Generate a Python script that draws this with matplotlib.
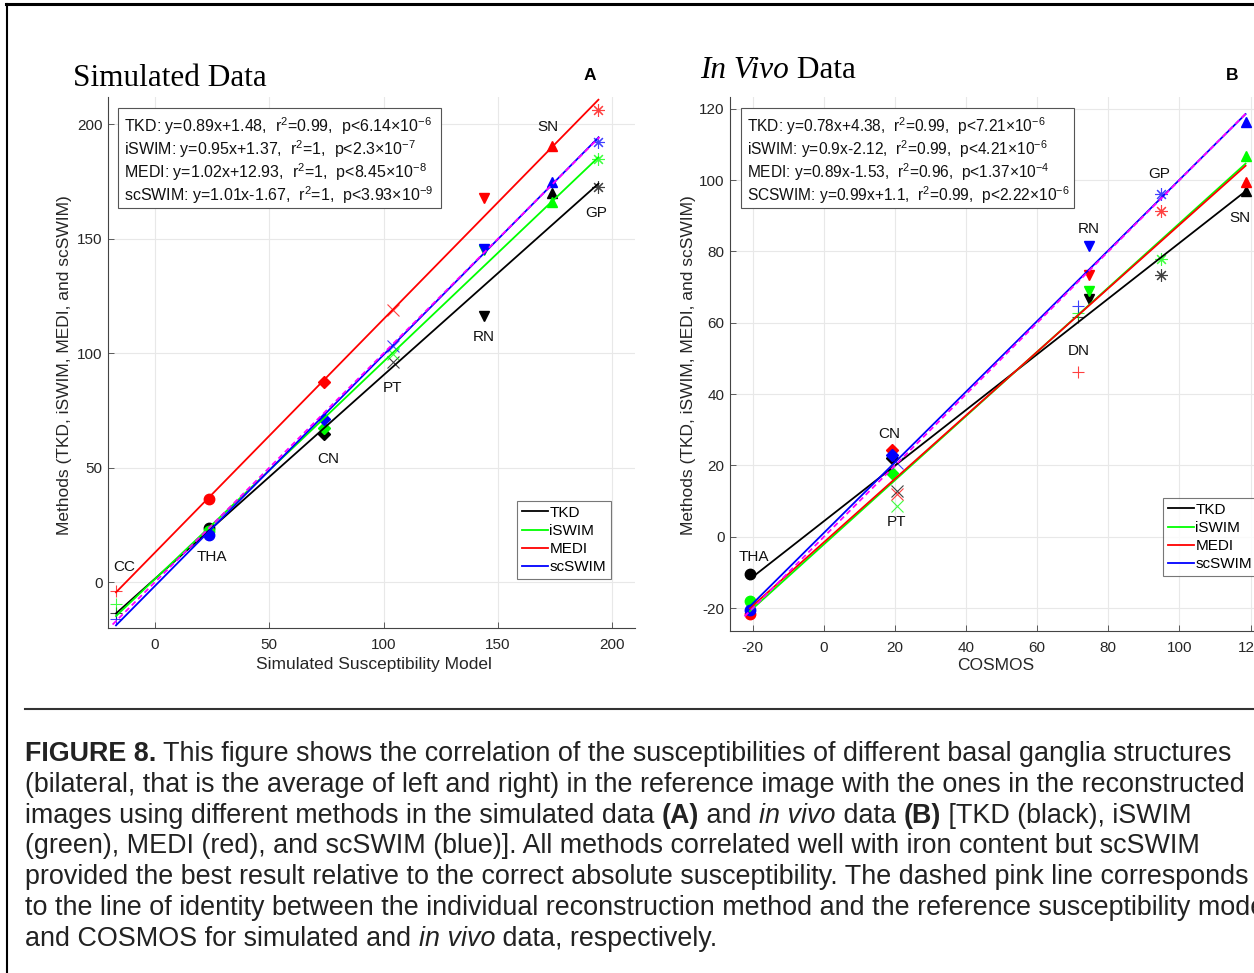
import numpy as np
import matplotlib.pyplot as plt
from matplotlib.patches import Rectangle
from matplotlib.lines import Line2D

plt.rcParams['font.family'] = ['Liberation Sans', 'DejaVu Sans']
plt.rcParams['mathtext.fontset'] = 'custom'
plt.rcParams['mathtext.rm'] = 'Liberation Sans'
plt.rcParams['mathtext.it'] = 'Liberation Sans:italic'
plt.rcParams['mathtext.bf'] = 'Liberation Sans:bold'
plt.rcParams['axes.unicode_minus'] = False

# ---------------- data ----------------
methods = ['TKD', 'iSWIM', 'MEDI', 'scSWIM']
colors = ['#000000', '#00ff00', '#ff0000', '#0000ff']

# (A) simulated data
sim_regions = ['CC', 'THA', 'CN', 'PT', 'RN', 'SN', 'GP']
sim_markers = ['+', 'o', 'D', 'x', 'v', '^', (8, 2, 0)]
sim_x = [-17.0, 23.7, 73.9, 104.0, 143.8, 173.9, 194.0]
sim_tkd = [-13.3, 23.9, 64.6, 96.4, 116.4, 170.2, 172.5]
sim_iswim = [-9.7, 22.5, 67.2, 99.8, 145.0, 166.1, 185.0]
sim_medi = [-3.7, 36.3, 87.5, 119.0, 167.7, 190.5, 206.4]
sim_scswim = [-15.9, 20.7, 71.3, 103.0, 145.6, 174.7, 192.4]
sim_slope = [0.89, 0.95, 1.02, 1.01]
sim_icpt = [1.48, 1.37, 12.93, -1.67]
sim_r2 = ['0.99', '1', '1', '1']
sim_p = [('6.14', -6), ('2.3', -7), ('8.45', -8), ('3.93', -9)]
sim_names = ['TKD', 'iSWIM', 'MEDI', 'scSWIM']
sim_label_pos = [(-13.5, 6.6), (24.9, 11.0), (75.9, 53.8), (103.9, 84.9),
                 (143.7, 107.2), (172.0, 199.0), (193.0, 161.3)]

# (B) in vivo data
vivo_regions = ['THA', 'CN', 'PT', 'DN', 'RN', 'GP', 'SN']
vivo_markers = ['o', 'D', 'x', '+', 'v', (8, 2, 0), '^']
vivo_x = [-20.8, 19.2, 20.7, 71.6, 74.6, 94.8, 118.6]
vivo_tkd = [-10.3, 22.0, 12.9, 61.5, 66.8, 73.5, 96.9]
vivo_iswim = [-17.9, 17.8, 8.7, 62.8, 69.0, 77.9, 106.8]
vivo_medi = [-21.6, 24.3, 12.0, 46.2, 73.3, 91.4, 99.6]
vivo_scswim = [-20.6, 22.9, 20.6, 64.6, 81.6, 96.2, 116.3]
vivo_slope = [0.78, 0.9, 0.89, 0.99]
vivo_icpt = [4.38, -2.12, -1.53, 1.1]
vivo_r2 = ['0.99', '0.99', '0.96', '0.99']
vivo_p = [('7.21', -6), ('4.21', -6), ('1.37', -4), ('2.22', -6)]
vivo_names = ['TKD', 'iSWIM', 'MEDI', 'SCSWIM']
vivo_label_pos = [(-19.7, -5.6), (18.3, 28.7), (20.5, 4.2), (71.7, 52.2),
                  (74.5, 86.2), (94.2, 101.7), (117.0, 89.3)]

# ---------------- figure ----------------
W, H = 1254, 973
fig = plt.figure(figsize=(W / 100, H / 100), dpi=100)


def fx(px):
    return px / W


def fy(py):
    return 1 - py / H


axA = fig.add_axes([fx(108), fy(628), (635 - 108) / W, (628 - 97) / H])
axB = fig.add_axes([fx(730), fy(631), (1279 - 730) / W, (631 - 97) / H])

thin = {'+', 'x'}


def draw_panel(ax, x, series, markers, slopes, icpts, regions, label_pos):
    x = np.asarray(x)
    for vals, c in zip(series, colors):
        for xi, yi, m in zip(x, vals, markers):
            if m in thin or isinstance(m, tuple):
                ax.plot(xi, yi, marker=m, ms=9, mec=c, mew=0.8, alpha=0.75,
                        ls='none', zorder=3)
            else:
                ms = 6 if m == 'D' else 7.5
                ax.plot(xi, yi, marker=m, ms=ms, mfc=c, mec=c, ls='none',
                        zorder=3)
    xl = np.array([x.min(), x.max()])
    for s, b, c, name in zip(slopes, icpts, colors, methods):
        ax.plot(xl, s * xl + b, color=c, lw=1.3, label=name, zorder=4)
    xi = np.array([x.min() - 1.5, x.max() + 0.5])
    ax.plot(xi, xi, color='#ff00ff', lw=1.3, ls=(0, (3, 2)), zorder=5)
    for r, (px, py) in zip(regions, label_pos):
        ax.text(px, py, r, ha='center', va='center', fontsize=11, color='#111111')

    ax.grid(True, color='#e8e8e8', lw=0.8)
    ax.set_axisbelow(True)
    for sp in ['top', 'right']:
        ax.spines[sp].set_visible(False)
    for sp in ['left', 'bottom']:
        ax.spines[sp].set_color('#444444')
        ax.spines[sp].set_linewidth(0.8)
    ax.tick_params(direction='in', length=4, width=0.6, color='#444444',
                   labelsize=11, labelcolor='#262626')
    ax.tick_params(axis='x', pad=7)
    ax.tick_params(axis='y', pad=4)


draw_panel(axA, sim_x, [sim_tkd, sim_iswim, sim_medi, sim_scswim], sim_markers,
           sim_slope, sim_icpt, sim_regions, sim_label_pos)
axA.set_xlim(-20.5, 210)
axA.set_ylim(-20, 212)
axA.set_xticks([0, 50, 100, 150, 200])
axA.set_yticks([0, 50, 100, 150, 200])
axA.set_xlabel('Simulated Susceptibility Model', fontsize=12.5, color='#262626', va='center')
axA.xaxis.set_label_coords((374 - 108) / (635 - 108), -(665 - 628) / (628 - 97))
axA.set_ylabel('Methods (TKD, iSWIM, MEDI, and scSWIM)', fontsize=12.5, color='#262626', va='center')
axA.yaxis.set_label_coords(-(108 - 65) / (635 - 108), (628 - 365) / (628 - 97))

draw_panel(axB, vivo_x, [vivo_tkd, vivo_iswim, vivo_medi, vivo_scswim], vivo_markers,
           vivo_slope, vivo_icpt, vivo_regions, vivo_label_pos)
axB.set_xlim(-26.4, 128)
axB.set_ylim(-26.4, 123.3)
axB.set_xticks(np.arange(-20, 121, 20))
axB.set_yticks(np.arange(-20, 121, 20))
axB.set_xlabel('COSMOS', fontsize=12.5, color='#262626', va='center')
axB.xaxis.set_label_coords((996 - 730) / (1279 - 730), -(665 - 631) / (631 - 97))
axB.set_ylabel('Methods (TKD, iSWIM, MEDI, and scSWIM)', fontsize=12.5, color='#262626', va='center')
axB.yaxis.set_label_coords(-(730 - 688) / (1279 - 730), (631 - 365) / (631 - 97))

# legends
for ax, (lx, ly) in [(axA, (517, 501)), (axB, (1163, 498))]:
    leg = ax.legend(loc='upper left', bbox_to_anchor=(fx(lx), fy(ly)),
                    bbox_transform=fig.transFigure, fontsize=11, frameon=True,
                    fancybox=False, handlelength=1.7, handletextpad=0.12,
                    labelspacing=0.28, borderpad=0.3, borderaxespad=0)
    leg.get_frame().set_edgecolor('#555555')
    leg.get_frame().set_linewidth(0.8)

# equation boxes
for (bx0, by0, bx1, by1), names, sl, ic, r2, pv, fs in [
        ((118, 108, 441, 208), sim_names, sim_slope, sim_icpt, sim_r2, sim_p, 11.5),
        ((741, 108, 1074, 208), vivo_names, vivo_slope, vivo_icpt, vivo_r2, vivo_p, 11.2)]:
    fig.add_artist(Rectangle((fx(bx0), fy(by1)), (bx1 - bx0) / W, (by1 - by0) / H,
                             transform=fig.transFigure, facecolor='white',
                             edgecolor='#555555', lw=0.8, zorder=6))
    for i in range(4):
        s = (f"{names[i]}: y={sl[i]:g}x{ic[i]:+g},  r$^2$={r2[i]},  "
             f"p<{pv[i][0]}$\\times$10$^{{{pv[i][1]}}}$")
        fig.text(fx(bx0 + 6), fy(126 + 23 * i), s, fontsize=fs, color='#111111',
                 va='center', ha='left', zorder=7)

# titles and panel letters
fig.text(fx(73), fy(79), 'Simulated Data', family='Liberation Serif', fontsize=22.5,
         va='center', ha='left')
t1 = fig.text(fx(700), fy(70), 'In Vivo', family='Liberation Serif', fontsize=22.5,
              style='italic', va='center', ha='left')
axA.annotate(' Data', xy=(1, 0), xycoords=t1, va='bottom', ha='left',
             family='Liberation Serif', fontsize=22.5, annotation_clip=False)
fig.text(fx(590), fy(76), 'A', fontsize=12.5, weight='bold', ha='center', va='center')
fig.text(fx(1232), fy(75), 'B', fontsize=12.5, weight='bold', ha='center', va='center')

# page frame and rule
fig.add_artist(Line2D([fx(6), 1], [fy(4), fy(4)], lw=2.2, color='black'))
fig.add_artist(Line2D([fx(7), fx(7)], [fy(4), 0], lw=1.5, color='black'))
fig.add_artist(Line2D([fx(25), 1], [fy(709), fy(709)], lw=1.5, color='#333333'))

# caption
cap_lines = [
    [('FIGURE 8.', 'bold', 'normal'),
     (' This figure shows the correlation of the susceptibilities of different basal ganglia structures', 'normal', 'normal')],
    [('(bilateral, that is the average of left and right) in the reference image with the ones in the reconstructed', 'normal', 'normal')],
    [('images using different methods in the simulated data ', 'normal', 'normal'),
     ('(A)', 'bold', 'normal'), (' and ', 'normal', 'normal'), ('in vivo', 'normal', 'italic'),
     (' data ', 'normal', 'normal'), ('(B)', 'bold', 'normal'),
     (' [TKD (black), iSWIM', 'normal', 'normal')],
    [('(green), MEDI (red), and scSWIM (blue)]. All methods correlated well with iron content but scSWIM', 'normal', 'normal')],
    [('provided the best result relative to the correct absolute susceptibility. The dashed pink line corresponds', 'normal', 'normal')],
    [('to the line of identity between the individual reconstruction method and the reference susceptibility model', 'normal', 'normal')],
    [('and COSMOS for simulated and ', 'normal', 'normal'), ('in vivo', 'normal', 'italic'),
     (' data, respectively.', 'normal', 'normal')],
]
cap_fs = 19.4
for k, segs in enumerate(cap_lines):
    yline = 754 + 30.8 * k
    prev = None
    for txt, wt, st in segs:
        if prev is None:
            prev = fig.text(fx(25), fy(yline), txt, fontsize=cap_fs, weight=wt,
                            style=st, color='#222222', va='center', ha='left')
        else:
            prev = axA.annotate(txt, xy=(1, 0), xycoords=prev, va='bottom', ha='left',
                                fontsize=cap_fs, weight=wt, style=st, color='#222222',
                                annotation_clip=False)

fig.savefig('out.png', dpi=100)
